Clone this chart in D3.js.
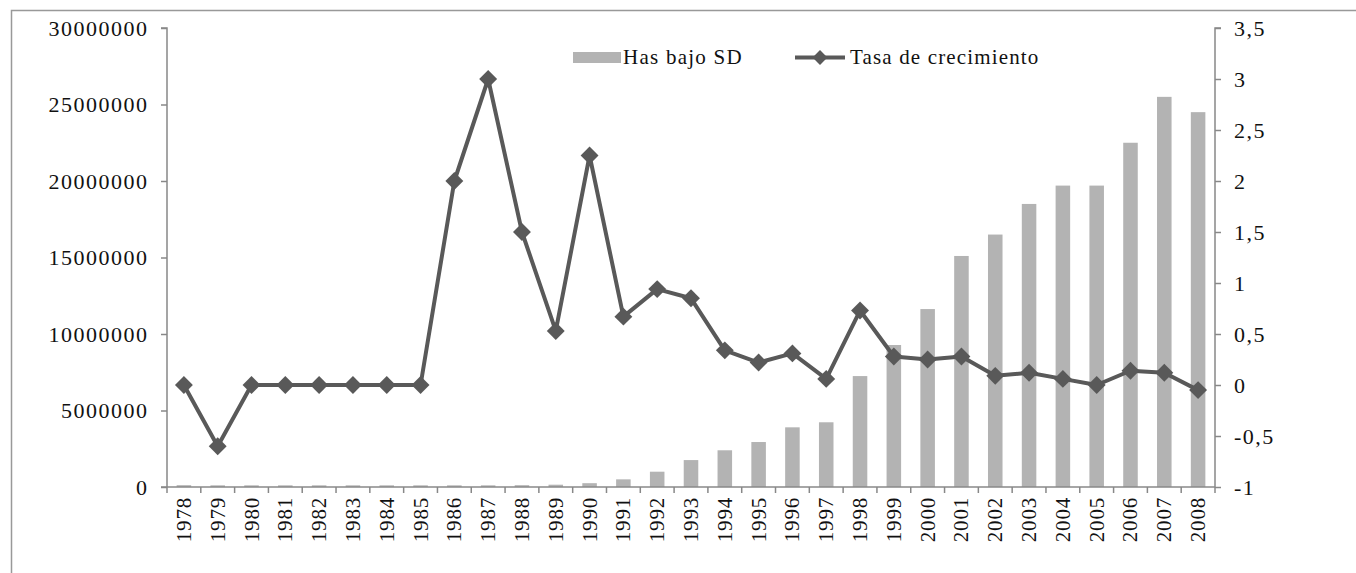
<!DOCTYPE html>
<html><head><meta charset="utf-8">
<script src="https://cdn.jsdelivr.net/npm/d3@7"></script>
<style>body{margin:0;background:#fff}svg{display:block}text{font-family:"Liberation Serif","Times New Roman",serif;fill:#111}</style>
</head><body><svg id="c" width="1356" height="573"></svg>
<script>
const years = d3.range(1978, 2009).map(String);
const hasBajoSD = [120000,110000,110000,110000,110000,110000,110000,110000,110000,110000,120000,150000,250000,500000,1000000,1760000,2400000,2940000,3900000,4230000,7250000,9280000,11630000,15100000,16500000,18500000,19700000,19700000,22500000,25500000,24500000];
const tasaCrecimiento = [0,-0.6,0,0,0,0,0,0,2.0,3.0,1.5,0.53,2.25,0.67,0.94,0.85,0.34,0.22,0.31,0.06,0.73,0.28,0.25,0.28,0.09,0.12,0.06,0,0.14,0.12,-0.05];
const leftTicks = [0,5000000,10000000,15000000,20000000,25000000,30000000];
const rightTicks = [-1,-0.5,0,0.5,1,1.5,2,2.5,3,3.5];
const seriesNames = ["Has bajo SD","Tasa de crecimiento"];

const svg = d3.select("#c");
const L = 167, R = 1215, T = 28, B = 487;
svg.append("rect").attr("x",11.5).attr("y",10.5).attr("width",1400).attr("height",700).attr("fill","none").attr("stroke","#999").attr("stroke-width",1.5);

const x = d3.scaleBand().domain(years).range([L,R]).paddingInner(0.57).paddingOuter(0.285);
const xb = d3.scaleBand().domain(years).range([L,R]);
const yL = d3.scaleLinear().domain([0,30000000]).range([B,T]);
const yR = d3.scaleLinear().domain([-1,3.5]).range([B,T]);

// bars
svg.append("g").selectAll("rect").data(years).join("rect")
  .attr("x", d=>x(d)).attr("width", x.bandwidth())
  .attr("y", (d,i)=>yL(hasBajoSD[i])).attr("height",(d,i)=>B-yL(hasBajoSD[i]))
  .attr("fill","#b3b3b3");

// axes
const axisColor="#888";
const gl = svg.append("g").attr("transform",`translate(${L},0)`)
  .call(d3.axisLeft(yL).tickValues(leftTicks).tickFormat(d3.format("d")).tickSize(6).tickPadding(14));
const gr = svg.append("g").attr("transform",`translate(${R},0)`)
  .call(d3.axisRight(yR).tickValues(rightTicks).tickFormat(d=>String(d).replace(".",",")).tickSize(6).tickPadding(13));
[gl,gr].forEach(g=>{
  g.selectAll("path,line").attr("stroke",axisColor).attr("stroke-width",1.5);
  g.selectAll("text").style("font-size","22px").style("letter-spacing","1.5px").attr("fill","#111");
});
gl.selectAll("text").attr("dx","1.5");
gl.select(".domain").attr("d",`M-6,${T}H0V${B}`);
gr.select(".domain").attr("d",`M6,${T}H0V${B}`);

const gx = svg.append("g").attr("transform",`translate(0,${B})`);
gx.append("line").attr("x1",L-6).attr("x2",R).attr("stroke",axisColor).attr("stroke-width",1.5);
gx.selectAll("line.t").data(years.concat(["end"])).join("line").attr("class","t")
  .attr("x1",(d,i)=>L+i*xb.step()).attr("x2",(d,i)=>L+i*xb.step())
  .attr("y1",0).attr("y2",6).attr("stroke",axisColor).attr("stroke-width",1.5);
gx.selectAll("text").data(years).join("text")
  .attr("transform",d=>`translate(${xb(d)+xb.bandwidth()/2+7},10) rotate(-90)`)
  .attr("text-anchor","end").style("font-size","21px").style("letter-spacing","0.8px").text(d=>d);

// line
const line = d3.line().x((d,i)=>xb(years[i])+xb.bandwidth()/2).y(d=>yR(d));
svg.append("path").datum(tasaCrecimiento).attr("d",line).attr("fill","none").attr("stroke","#595959").attr("stroke-width",4).attr("stroke-linejoin","round");
svg.append("g").selectAll("path").data(tasaCrecimiento).join("path")
  .attr("transform",(d,i)=>`translate(${xb(years[i])+xb.bandwidth()/2},${yR(d)}) rotate(45)`)
  .attr("d",d3.symbol().type(d3.symbolSquare).size(160)).attr("fill","#595959");

// legend
const lg = svg.append("g");
lg.append("rect").attr("x",573).attr("y",52).attr("width",48).attr("height",11).attr("fill","#b3b3b3");
lg.append("text").attr("x",623).attr("y",64).style("font-size","21px").style("letter-spacing","1.25px").text(seriesNames[0]);
lg.append("line").attr("x1",795).attr("x2",845).attr("y1",57.5).attr("y2",57.5).attr("stroke","#595959").attr("stroke-width",4);
lg.append("path").attr("transform","translate(820,57.5) rotate(45)").attr("d",d3.symbol().type(d3.symbolSquare).size(110)).attr("fill","#595959");
lg.append("text").attr("x",850).attr("y",64).style("font-size","21px").style("letter-spacing","1.15px").text(seriesNames[1]);
</script></body></html>
